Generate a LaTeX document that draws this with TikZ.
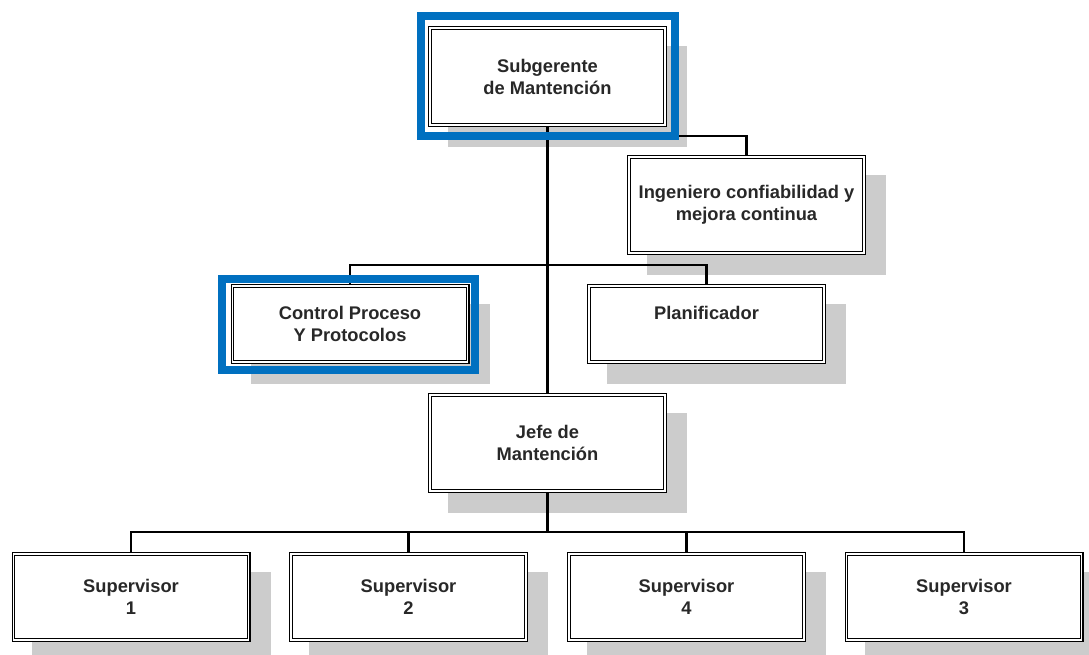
\documentclass[tikz,border=0pt]{standalone}
\usepackage{fontspec}
\setmainfont{Liberation Sans}
\pgfdeclarelayer{bglayer}
\pgfdeclarelayer{shadowlayer}
\pgfdeclarelayer{lineslayer}
\pgfdeclarelayer{frontlayer}
\pgfsetlayers{bglayer,shadowlayer,lineslayer,main,frontlayer}
\definecolor{frameblue}{RGB}{0,112,192}
\definecolor{shadowgray}{RGB}{204,204,204}
\definecolor{textgray}{RGB}{40,40,40}
\tikzset{
  orgbox/.style={draw=black, double=white, line width=1.1pt, double distance=1.5pt,
    fill=white, text=textgray, align=center, inner sep=0pt, outer sep=1.85pt,
    font=\bfseries\fontsize{18.3}{22}\selectfont, minimum width=235.3pt},
  conn/.style={draw=black, line width=2.4pt},
  blueframe/.style={draw=frameblue, line width=8pt},
  shadowbox/.style={fill=shadowgray}
}
\begin{document}
\begin{tikzpicture}[x=1pt,y=-1pt]
\useasboundingbox (0,0) rectangle (1089,654);
\begin{pgfonlayer}{bglayer}
\fill[white] (0,0) rectangle (1089,654);
\end{pgfonlayer}

\node[orgbox, minimum height=97.3pt] (sub) at (547.5,76.5) {Subgerente\\de Mantención};
\node[orgbox, minimum height=96.3pt] (ing) at (746.5,205) {Ingeniero confiabilidad y\\mejora continua};
\node[orgbox, minimum height=76.3pt] (ctrl) at (350,324) {Control Proceso\\Y Protocolos};
\node[orgbox, minimum height=76.3pt] (plan) at (706.5,324) {Planificador\\\mbox{}};
\node[orgbox, minimum height=96.3pt] (jefe) at (547.5,443) {Jefe de\\Mantención};
\node[orgbox, minimum height=86.3pt] (s1) at (131,597) {Supervisor\\1};
\node[orgbox, minimum height=86.3pt] (s2) at (408.5,597) {Supervisor\\2};
\node[orgbox, minimum height=86.3pt] (s4) at (686.5,597) {Supervisor\\4};
\node[orgbox, minimum height=86.3pt] (s3) at (964,597) {Supervisor\\3};

\begin{pgfonlayer}{shadowlayer}
\foreach \n in {sub,ing,ctrl,plan,jefe,s1,s2,s4,s3}
  \fill[shadowbox] ([shift={(20,20)}]\n.north west) rectangle ([shift={(20,20)}]\n.south east);
\end{pgfonlayer}

\coordinate (b1) at (547.5,136);
\coordinate (b2) at (547.5,265);
\coordinate (b3) at (547.5,532);

\begin{pgfonlayer}{lineslayer}
\draw[conn] (sub.south) -- (jefe.north);
\draw[conn] (b1) -| (ing.north);
\draw[conn] (ctrl.north) |- (b2) -| (plan.north);
\draw[conn] (jefe.south) -- (b3);
\draw[conn] (s1.north) |- (b3) -| (s3.north);
\draw[conn] (s2.north) |- (b3);
\draw[conn] (s4.north) |- (b3);
\end{pgfonlayer}

\begin{pgfonlayer}{frontlayer}
\draw[blueframe] ([shift={(-7.5,-10)}]sub.north west) rectangle ([shift={(7.5,9)}]sub.south east);
\draw[blueframe] ([shift={(-8.5,-5)}]ctrl.north west) rectangle ([shift={(5.5,6)}]ctrl.south east);
\end{pgfonlayer}
\end{tikzpicture}
\end{document}
